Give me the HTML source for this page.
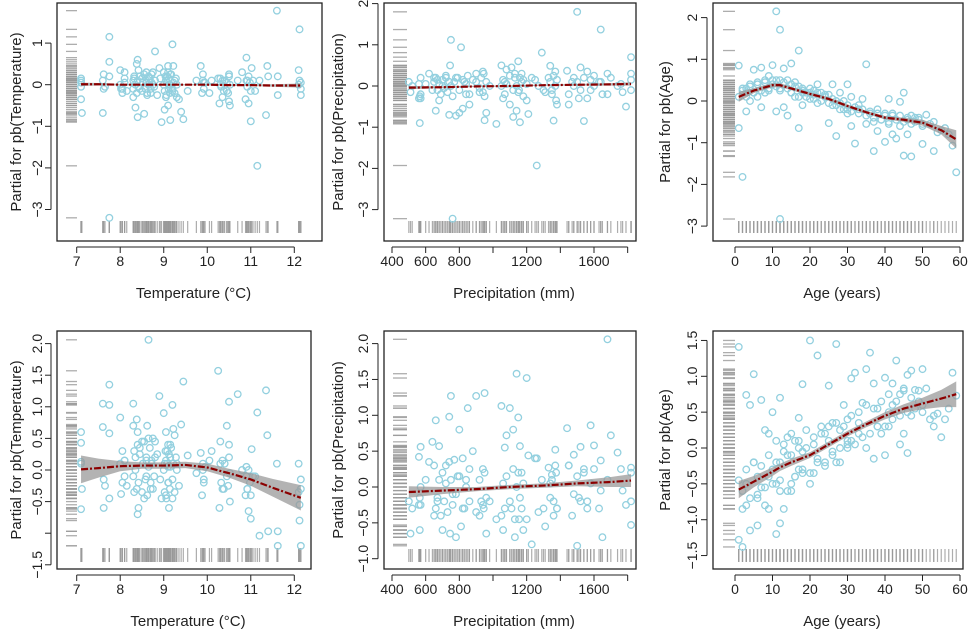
<!DOCTYPE html>
<html><head><meta charset="utf-8">
<style>
html,body{margin:0;padding:0;background:#fff;}
svg{display:block;font-family:"Liberation Sans",Arial,sans-serif;}
</style></head>
<body>
<svg id="chart" width="968" height="629" viewBox="0 0 968 629" xmlns="http://www.w3.org/2000/svg"></svg>
<script>
// ---- data ----
const tempX=[7.1,7.1,7.1,7.12,7.1,7.6,7.6,7.62,7.65,7.75,7.75,7.75,7.75,8.0,8.02,8.05,8.1,8.1,8.15,8.3,8.3,8.32,8.35,8.38,8.4,8.4,8.42,8.45,8.5,8.55,8.6,8.6,8.62,8.65,8.7,8.72,8.75,8.8,8.85,8.9,8.92,8.95,9.0,9.02,9.05,9.05,9.08,9.1,9.1,9.12,9.15,9.15,9.2,9.2,9.22,9.25,9.3,9.35,9.4,9.45,9.55,9.75,9.85,9.88,9.9,9.92,10.05,10.1,10.25,10.28,10.3,10.35,10.4,10.45,10.5,10.5,10.52,10.7,10.8,10.88,10.9,10.92,10.95,11.0,11.02,11.1,11.15,11.2,11.35,11.38,11.4,11.6,11.62,11.62,12.1,12.12,12.15,12.15,12.12,12.15,8.65];
const p1Y=[0.1,-0.05,-0.35,-0.68,0.15,-0.68,0.1,0.25,-0.05,1.15,0.55,0.2,-3.2,0.35,-0.1,-0.2,0.05,0.3,-0.15,0.1,-0.3,0.2,-0.55,0.5,0.6,-0.78,0.35,-0.1,0.15,-0.7,0.3,0.05,-0.2,0.2,-0.1,0.25,0.0,0.8,-0.25,0.4,0.15,-0.9,0.3,-0.6,0.1,-0.3,0.2,0.45,-0.5,0.0,0.25,-0.85,0.97,-0.15,0.45,0.1,-0.3,-0.35,-0.65,-0.83,-0.15,0.1,0.45,-0.2,0.25,0.05,-0.2,0.1,0.15,-0.45,0.0,-0.3,0.1,-0.15,0.25,-0.4,-0.5,0.1,0.3,-0.35,0.65,0.1,-0.45,-0.88,0.4,-0.15,-1.95,0.1,-0.73,0.45,0.2,1.78,0.2,-0.25,0.35,1.33,0.05,-0.25,0.1,-0.1,0.0];
const p4Y=[0.6,0.43,0.13,-0.3,-0.62,1.05,0.68,-0.6,-0.25,1.35,1.03,0.58,-0.45,0.83,-0.38,0.3,-0.1,0.15,-0.25,1.05,0.7,-0.35,0.2,0.8,0.6,-0.7,-0.6,0.35,0.45,-0.45,0.15,-0.1,0.7,0.5,-0.2,0.1,-0.3,0.45,0.25,1.17,-0.15,-0.45,0.9,0.1,-0.4,0.6,0.3,-0.2,0.05,-0.6,0.4,0.2,1.03,-0.45,0.65,0.55,0.1,-0.25,0.72,1.4,0.23,-0.05,0.27,-0.4,0.0,-0.2,0.15,0.3,1.57,-0.6,0.45,-0.3,0.1,0.7,1.08,0.4,-0.5,1.2,0.0,-0.4,0.05,-0.3,-0.65,-0.77,0.33,-0.1,0.91,-1.04,1.26,0.55,-0.97,0.1,-1.2,-0.97,0.1,-0.8,-0.3,-1.2,-0.55,-0.15,2.06];
const tempX2=[8.3,8.32,8.35,8.38,8.4,8.42,8.45,8.5,8.52,8.55,8.58,8.6,8.62,8.65,8.68,8.7,8.72,8.75,8.78,8.8,9.0,9.02,9.04,9.05,9.06,9.08,9.1,9.11,9.12,9.14,9.15,9.17,9.2,9.22,9.25,9.28,9.3,9.9,9.92,9.95,10.3,10.32,10.35,10.38,10.45,10.48,10.5,10.52,10.9,10.92,10.95,10.98,11.0,11.05,8.0,8.05,8.1,7.1,7.62,12.1];
const p1Y2=[-0.1,0.15,0.0,-0.2,0.1,-0.05,0.2,-0.15,0.05,0.25,-0.1,0.1,-0.25,0.0,0.15,-0.2,0.05,0.3,-0.05,0.1,0.0,-0.15,0.2,0.1,-0.25,0.05,0.3,-0.1,0.15,-0.2,0.0,0.25,-0.1,0.05,-0.2,0.15,0.0,0.1,-0.1,0.05,0.15,-0.05,0.1,-0.15,0.05,-0.2,0.2,0.0,0.1,-0.05,0.2,0.05,-0.15,0.1,0.0,-0.1,0.15,0.05,-0.1,0.0];
const p4Y2=[-0.1,0.3,0.0,-0.3,0.4,-0.2,0.25,-0.35,0.1,0.45,-0.15,0.2,-0.4,0.05,0.35,-0.3,0.15,0.5,-0.1,0.2,0.0,-0.35,0.3,0.15,-0.45,0.1,0.4,-0.2,0.25,-0.3,0.05,0.35,-0.15,0.1,-0.35,0.2,0.0,0.1,-0.15,0.05,0.1,-0.2,0.15,-0.3,-0.1,-0.25,0.2,-0.05,-0.1,-0.3,0.0,-0.2,-0.4,-0.1,0.1,-0.2,0.15,0.1,-0.15,-0.35];
const precX=[500,510,520,560,565,570,570,600,620,640,650,660,670,680,700,720,740,745,750,760,770,780,790,800,810,820,830,840,850,860,880,900,920,940,950,960,980,1020,1050,1060,1070,1080,1100,1110,1120,1130,1140,1150,1155,1160,1170,1180,1200,1210,1230,1260,1270,1290,1310,1330,1340,1350,1360,1370,1380,1440,1450,1470,1480,1500,1510,1520,1540,1560,1580,1600,1630,1640,1650,1680,1700,1740,1770,1790,1820,1820,1820];
const p2Y=[0.1,-0.15,0.0,-0.3,-0.9,0.2,-0.2,0.05,0.3,-0.1,0.2,-0.6,0.15,-0.35,0.0,0.2,-0.7,0.5,1.12,-3.22,0.1,-0.72,0.2,-0.65,0.94,-0.55,0.1,-0.2,0.25,-0.45,0.15,0.3,-0.15,0.35,-0.83,-0.65,0.0,-0.92,0.5,-0.3,0.1,0.4,-0.45,0.45,-0.75,0.2,-0.6,0.6,-0.1,-0.88,0.3,0.15,-0.35,-0.68,0.2,-1.93,0.0,0.81,-0.15,0.2,0.49,-0.1,-0.84,0.35,-0.45,0.37,-0.2,0.1,0.2,1.8,-0.3,0.45,-0.85,0.35,-0.1,0.25,0.1,1.37,-0.2,0.3,0.2,0.0,-0.15,-0.5,0.3,0.7,0.15,0.05];
const p5Y=[-0.2,-0.65,-0.3,0.42,-0.6,0.56,-0.25,0.1,0.35,0.63,-0.4,0.93,-0.2,0.57,-0.6,0.3,0.98,-0.65,1.27,-0.1,0.38,-0.7,0.15,0.8,-0.55,0.4,-0.3,0.1,1.1,-0.2,0.5,1.27,-0.4,0.25,1.31,-0.65,-0.2,-0.45,1.13,-0.6,0.55,0.72,1.1,-0.3,0.8,-0.7,1.58,0.97,-0.45,0.57,0.2,-0.6,1.52,0.44,-0.8,0.4,-0.35,0.1,-0.55,0.27,-0.15,0.17,-0.4,0.52,-0.3,0.82,0.3,-0.4,0.45,-0.82,-0.15,0.56,0.25,-0.2,0.86,0.58,-0.3,0.37,-0.7,2.06,0.72,0.48,-0.05,-0.25,0.27,-0.53,0.2];
const precX2=[560,565,570,650,660,670,680,690,700,710,720,730,740,750,760,780,800,820,840,860,900,920,930,940,945,950,960,1050,1060,1070,1080,1100,1120,1130,1140,1150,1160,1170,1180,1200,1250,1300,1340,1350,1360,1370,1375,1380,1450,1480,1500,1520,1540,1560,1580,1600,1640,1680,1760,1820];
const p2Y2=[-0.25,-0.3,0.1,0.2,-0.1,0.05,-0.2,0.15,-0.05,0.25,-0.15,0.1,0.0,-0.25,0.2,-0.1,0.15,0.05,-0.2,0.1,-0.05,0.2,-0.15,0.3,-0.25,0.1,0.0,0.15,-0.2,0.05,0.25,-0.1,0.3,0.0,-0.15,0.2,0.1,-0.25,0.05,0.15,-0.1,0.1,-0.2,0.25,0.0,-0.35,0.15,-0.45,0.0,0.1,-0.1,0.2,-0.3,0.15,0.0,0.1,-0.2,0.05,-0.1,0.2];
const p5Y2=[-0.25,-0.15,0.0,0.3,-0.3,-0.15,0.1,-0.4,0.2,-0.2,0.05,-0.35,0.35,0.1,-0.25,-0.1,0.15,-0.3,0.0,0.25,-0.35,0.1,-0.2,-0.25,-0.3,0.2,-0.15,-0.4,0.05,-0.3,0.15,-0.2,0.25,-0.45,0.0,0.2,-0.15,-0.3,0.05,-0.45,0.4,-0.3,0.05,0.1,-0.2,0.3,0.2,-0.3,0.3,-0.1,0.15,-0.2,0.2,-0.3,0.05,0.25,-0.05,0.1,0.25,-0.2];
const ageX=[1,1,1,2,2,3,3,4,4,5,5,6,6,7,7,8,8,9,9,10,10,11,11,11,12,12,12,13,13,14,14,15,15,16,16,17,17,17,18,18,19,20,20,21,22,22,23,24,25,25,26,26,27,28,28,29,30,30,31,31,32,33,34,35,35,36,37,37,38,38,39,40,40,41,41,42,42,43,44,44,45,45,46,46,47,47,48,49,50,50,51,52,53,53,54,55,56,57,58,59];
const p3Y=[0.85,0.1,-0.65,-1.82,0.3,0.2,-0.25,0.4,0.0,0.75,0.2,0.45,0.1,0.8,-0.15,0.5,0.2,0.6,0.3,0.86,0.4,2.15,-0.25,0.5,1.71,-2.83,0.3,0.78,-0.15,0.5,-0.35,0.9,0.2,0.45,0.1,1.21,-0.65,0.35,0.3,-0.1,0.2,0.3,0.05,0.15,0.4,-0.05,0.2,0.1,-0.53,0.15,0.4,-0.1,-0.84,0.2,-0.2,0.0,0.4,-0.3,-0.6,0.1,-1.02,-0.2,0.05,0.88,-0.55,-0.3,-1.2,-0.5,-0.2,-0.72,-0.45,-0.98,-0.3,0.05,-0.55,-0.8,-0.35,-0.9,-0.02,-0.6,0.2,-1.31,-0.45,-0.8,-1.33,-0.35,-0.5,-0.4,-1.03,-0.6,-0.33,-0.55,-1.2,-0.5,-0.75,-0.7,-0.65,-0.8,-1.07,-1.71];
const p6Y=[1.41,-0.45,-1.28,-0.85,-1.38,0.74,-0.5,0.6,-1.15,1.03,-0.2,-1.08,-0.4,0.67,-0.55,-0.8,0.25,-0.85,0.2,0.5,-0.3,-1.2,0.1,-0.5,0.7,-1.05,-0.2,-0.85,0.05,-0.1,0.15,-0.6,0.2,-0.4,0.1,0.42,-0.3,0.0,0.89,-0.35,0.25,1.5,-0.5,0.05,1.29,-0.2,0.3,-0.25,0.87,0.1,0.35,-0.1,1.45,0.25,-0.2,0.6,0.0,0.4,0.97,0.1,1.05,0.2,0.63,1.1,0.0,1.33,0.9,-0.15,0.55,0.3,0.2,0.98,-0.1,0.5,0.3,0.9,0.6,1.22,0.05,0.75,0.2,0.83,-0.07,1.02,1.08,0.45,0.81,0.8,1.1,0.5,0.83,0.4,0.3,0.45,0.48,0.15,0.4,0.55,1.05,0.73];
const ageX2=[2,3,4,5,6,7,8,9,10,11,12,13,14,15,16,17,18,19,20,21,22,23,24,25,26,27,28,29,30,31,32,33,34,35,36,37,38,39,40,41,42,43,44,45,46,47,48,49,50,3,6,9,12,15,18,21,24,27,30,33];
const p3Y2=[0.25,0.1,0.35,0.2,0.4,0.25,0.45,0.3,0.5,0.35,0.25,0.45,0.3,0.2,0.35,0.1,0.25,0.1,0.2,0.05,0.2,0.0,0.1,-0.05,0.05,-0.1,-0.05,-0.2,-0.1,-0.25,-0.15,-0.3,-0.2,-0.35,-0.25,-0.4,-0.3,-0.45,-0.35,-0.5,-0.3,-0.45,-0.35,-0.5,-0.4,-0.55,-0.4,-0.45,-0.55,0.3,0.4,0.25,0.5,0.4,0.2,0.25,0.15,0.0,-0.2,-0.1];
const p6Y2=[-0.6,-0.3,-0.7,-0.2,-0.65,-0.25,-0.55,-0.1,-0.5,-0.2,-0.45,-0.05,-0.6,-0.1,-0.4,0.1,-0.3,0.0,-0.35,0.15,-0.15,0.2,-0.2,0.3,-0.05,0.35,0.0,0.3,0.1,0.45,0.05,0.5,0.15,0.6,0.2,0.55,0.3,0.65,0.3,0.75,0.4,0.65,0.45,0.8,0.5,0.7,0.55,0.65,0.6,-0.8,-0.7,-0.4,-0.6,-0.5,-0.05,-0.35,0.2,-0.2,0.05,0.35];
// fitted smooths
const fitTempX=[7.1,7.5,8,8.5,9,9.5,10,10.5,11,11.5,12.15];
const fit1=[0.01,0.01,0.0,0.0,0.0,0.0,0.0,-0.01,-0.01,-0.02,-0.02];
const fit1Se=[0.04,0.03,0.02,0.015,0.015,0.015,0.015,0.02,0.02,0.03,0.05];
const fit4=[0.01,0.03,0.06,0.07,0.07,0.08,0.04,-0.05,-0.15,-0.28,-0.44];
const fit4Se=[0.22,0.15,0.08,0.05,0.05,0.05,0.06,0.07,0.1,0.14,0.2];
const fitPrecX=[500,700,900,1100,1300,1500,1700,1820];
const fit2=[-0.04,-0.03,-0.01,0.0,0.02,0.03,0.04,0.05];
const fit2Se=[0.04,0.02,0.015,0.015,0.015,0.02,0.03,0.04];
const fit5=[-0.07,-0.05,-0.03,0.0,0.02,0.05,0.07,0.09];
const fit5Se=[0.08,0.05,0.03,0.03,0.03,0.04,0.07,0.09];
const fitAgeX=[1,5,10,12,15,20,25,30,35,40,45,50,55,59];
const fit3=[0.1,0.25,0.38,0.38,0.3,0.17,0.05,-0.12,-0.27,-0.4,-0.45,-0.52,-0.7,-0.92];
const fit3Se=[0.12,0.06,0.05,0.05,0.04,0.04,0.04,0.04,0.04,0.04,0.05,0.07,0.1,0.22];
const fit6=[-0.58,-0.47,-0.33,-0.27,-0.2,-0.1,0.05,0.2,0.33,0.45,0.55,0.62,0.69,0.75];
const fit6Se=[0.12,0.08,0.06,0.05,0.05,0.04,0.04,0.04,0.04,0.05,0.06,0.08,0.12,0.18];
const tempTicks=[7,8,9,10,11,12];
const precTicks=[400,600,800,1200,1600];
const precTickMarks=[400,600,800,1000,1200,1400,1600,1800];
const ageTicks=[0,10,20,30,40,50,60];
const yTicksTop1=[-3,-2,-1,0,1];
const yTicksTop2=[-3,-2,-1,0,1,2];
const yTicks4=[-1.5,-1,-0.5,0,0.5,1,1.5,2];
const yLabels4=["−1.5","","−0.5","0.0","0.5","1.0","1.5","2.0"];
const yTicks5=[-1,-0.5,0,0.5,1,1.5,2];
const yTicks6=[-1.5,-1,-0.5,0,0.5,1,1.5];

const panels=[
 {id:'temp-top',box:[57,3,322,241],x0:7,px0:76.7,x1:12,px1:294.3,y0:0,py0:84.7,ppu:41.6,
  xs:tempX.concat(tempX2),ys:p1Y.concat(p1Y2),fx:fitTempX,fy:fit1,fs:fit1Se,xt:tempTicks,xtm:tempTicks,yt:yTicksTop1,yl:null,
  xlab:'Temperature (°C)',ylab:'Partial for pb(Temperature)',ylx:16,ytx:37,strip:[66,77],xr:[221,233],row:0},
 {id:'precip-top',box:[384,3,636,241],x0:400,px0:392,x1:1600,px1:594,y0:0,py0:86,ppu:41.2,
  xs:precX.concat(precX2),ys:p2Y.concat(p2Y2),fx:fitPrecX,fy:fit2,fs:fit2Se,xt:precTicks,xtm:precTickMarks,yt:yTicksTop2,yl:null,
  xlab:'Precipitation (mm)',ylab:'Partial for pb(Precipitation)',ylx:338,ytx:363,strip:[393,407],xr:[221,233],row:0},
 {id:'age-top',box:[713,3,963,241],x0:0,px0:735,x1:60,px1:960,y0:0,py0:101,ppu:41.7,
  xs:ageX.concat(ageX2),ys:p3Y.concat(p3Y2),fx:fitAgeX,fy:fit3,fs:fit3Se,xt:ageTicks,xtm:ageTicks,yt:yTicksTop2,yl:null,
  xlab:'Age (years)',ylab:'Partial for pb(Age)',ylx:665,ytx:692,strip:[723,735],xr:[221,233],row:0},
 {id:'temp-bottom',box:[57,331,311,569],x0:7,px0:76.7,x1:12,px1:294.3,y0:0,py0:470,ppu:63.2,
  xs:tempX.concat(tempX2),ys:p4Y.concat(p4Y2),fx:fitTempX,fy:fit4,fs:fit4Se,xt:tempTicks,xtm:tempTicks,yt:yTicks4,yl:yLabels4,
  xlab:'Temperature (°C)',ylab:'Partial for pb(Temperature)',ylx:16,ytx:37,strip:[66,77],xr:[548,562],row:1},
 {id:'precip-bottom',box:[384,331,636,569],x0:400,px0:392,x1:1600,px1:594,y0:0,py0:487,ppu:71.7,
  xs:precX.concat(precX2),ys:p5Y.concat(p5Y2),fx:fitPrecX,fy:fit5,fs:fit5Se,xt:precTicks,xtm:precTickMarks,yt:yTicks5,yl:null,
  xlab:'Precipitation (mm)',ylab:'Partial for pb(Precipitation)',ylx:338,ytx:363,strip:[393,407],xr:[549,562],row:1},
 {id:'age-bottom',box:[713,331,963,569],x0:0,px0:735,x1:60,px1:960,y0:0,py0:448,ppu:71.7,
  xs:ageX.concat(ageX2),ys:p6Y.concat(p6Y2),fx:fitAgeX,fy:fit6,fs:fit6Se,xt:ageTicks,xtm:ageTicks,yt:yTicks6,yl:null,
  xlab:'Age (years)',ylab:'Partial for pb(Age)',ylx:665,ytx:692,strip:[723,735],xr:[549,562],row:1}
];
const NS='http://www.w3.org/2000/svg';
const svg=document.getElementById('chart');
function mk(tag,attrs,parent){const e=document.createElementNS(NS,tag);for(const k in attrs)e.setAttribute(k,attrs[k]);(parent||svg).appendChild(e);return e;}
function fmt(v,dec){let s=dec?v.toFixed(1):String(v);return s.replace('-','−');}
panels.forEach(p=>{
  const g=mk('g',{});
  
  
  const X=v=>p.px0+(v-p.x0)*(p.px1-p.px0)/(p.x1-p.x0);
  const Y=v=>p.py0-(v-p.y0)*p.ppu;
  const [bl,bt,br,bb]=p.box;
  const yr=mk('g',{stroke:'#999','stroke-width':1.3,'stroke-opacity':0.8},g);
  
  
  p.ys.forEach(v=>{mk('line',{x1:p.strip[0],x2:p.strip[1],y1:Y(v),y2:Y(v)},yr);});
  const xrg=mk('g',{stroke:'#999','stroke-width':1.2,'stroke-opacity':0.8},g);
  
  
  p.xs.forEach(v=>{mk('line',{x1:X(v),x2:X(v),y1:p.xr[0],y2:p.xr[1]},xrg);});
  const pts=mk('g',{fill:'none',stroke:'#93d0df','stroke-width':1.3},g);
  
  
  const n=Math.min(p.xs.length,p.ys.length);
  for(let i=0;i<n;i++){mk('circle',{cx:X(p.xs[i]),cy:Y(p.ys[i]),r:3.3},pts);}
  let up=p.fx.map((x,i)=>X(x)+','+Y(p.fy[i]+p.fs[i]));
  let lo=p.fx.map((x,i)=>X(x)+','+Y(p.fy[i]-p.fs[i])).reverse();
  const band=mk('polygon',{points:up.concat(lo).join(' '),fill:'#999','fill-opacity':0.75},g);
  
  
  const line=mk('polyline',{points:p.fx.map((x,i)=>X(x)+','+Y(p.fy[i])).join(' '),fill:'none',stroke:'#8b0000','stroke-width':2.2,'stroke-dasharray':'7 2 2 2'},g);
  
  
  const bx=mk('rect',{x:bl,y:bt,width:br-bl,height:bb-bt,fill:'none',stroke:'#222','stroke-width':1.3},g);
  
  
  const xa=mk('g',{},g);
  
  
  const ay=bb+6;
  mk('line',{x1:X(p.xtm[0]),x2:X(p.xtm[p.xtm.length-1]),y1:ay,y2:ay,stroke:'#222','stroke-width':1},xa);
  p.xtm.forEach(v=>mk('line',{x1:X(v),x2:X(v),y1:ay,y2:ay+6,stroke:'#222','stroke-width':1},xa));
  p.xt.forEach(v=>{const t=mk('text',{x:X(v),y:bb+25,'text-anchor':'middle','font-size':14,fill:'#222'},xa);t.textContent=String(v);
    
    });
  const xl=mk('text',{x:(bl+br)/2+4,y:bb+57,'text-anchor':'middle','font-size':15,fill:'#222'},g);
  xl.textContent=p.xlab;
  
  
  const ya=mk('g',{},g);
  
  
  const ax=bl-6;
  mk('line',{x1:ax,x2:ax,y1:Y(p.yt[0]),y2:Y(p.yt[p.yt.length-1]),stroke:'#222','stroke-width':1},ya);
  const dec=p.yt.some(v=>v%1!==0);
  p.yt.forEach((v,i)=>{mk('line',{x1:ax-6,x2:ax,y1:Y(v),y2:Y(v),stroke:'#222','stroke-width':1},ya);
    const lab=p.yl?p.yl[i]:fmt(v,dec);
    const t=mk('text',{x:p.ytx+5,y:Y(v),'text-anchor':'middle','font-size':14,fill:'#222',transform:`rotate(-90 ${p.ytx+5} ${Y(v)})`},ya);
    t.textContent=lab;
    
    });
  const cy=(bt+bb)/2;
  const yl=mk('text',{x:p.ylx+5,y:cy,'text-anchor':'middle','font-size':15,fill:'#222',transform:`rotate(-90 ${p.ylx+5} ${cy})`},g);
  yl.textContent=p.ylab;
  
  
});
</script>
</body></html>
